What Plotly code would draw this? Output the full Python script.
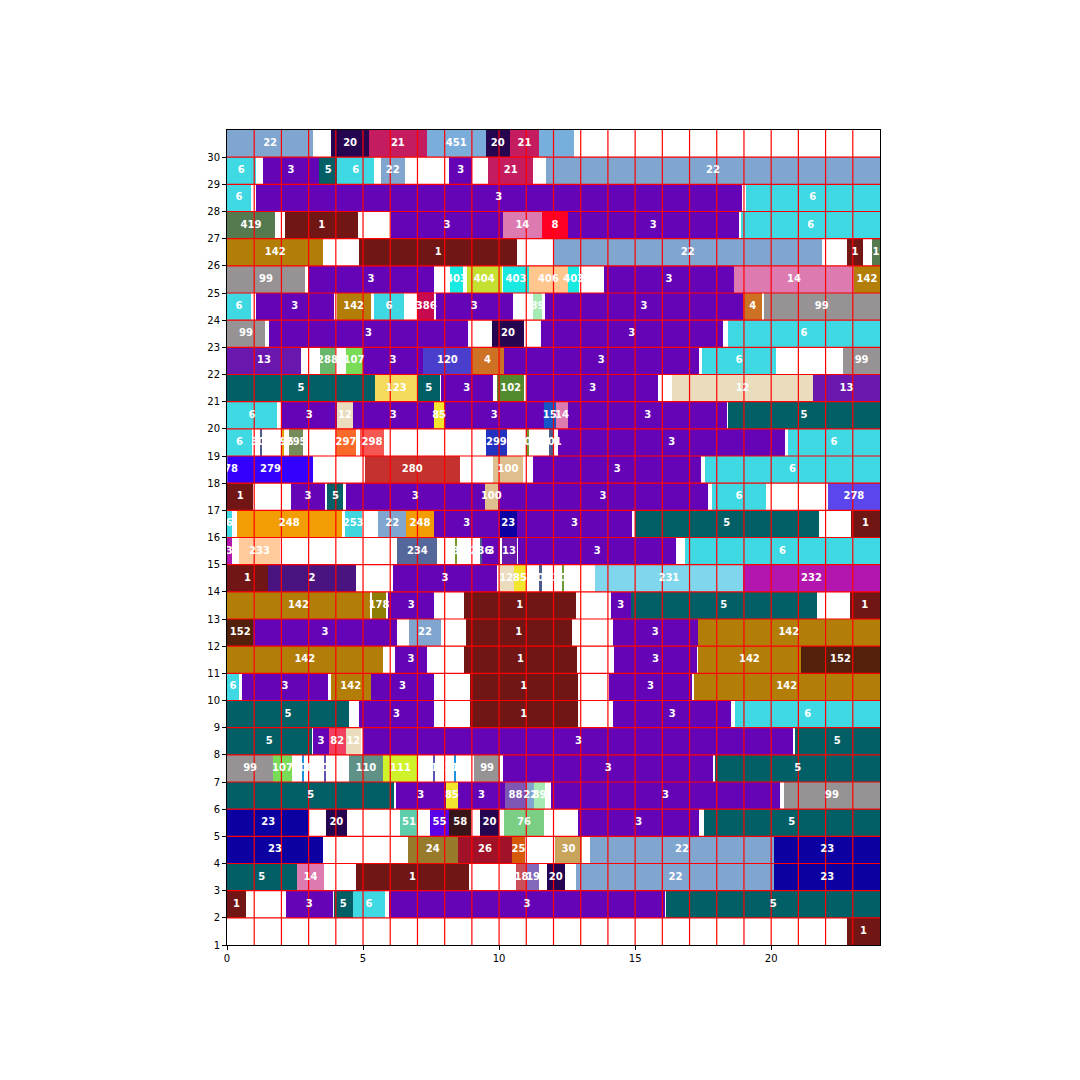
import plotly.graph_objects as go

# ---- data: each row is a list of (start_hour, end_hour, category) ----
r30 = [(0, 3.17, "22"), (3.83, 5.22, "20"), (5.22, 7.34, "21"), (7.34, 9.51, "451"), (9.51, 10.39, "20"),
       (10.39, 11.47, "21"), (11.47, 12.76, "451b")]
r29 = [(0, 1.05, "6"), (1.31, 3.39, "3"), (3.39, 4.06, "5"), (4.06, 5.40, "6"), (5.65, 6.54, "22"),
       (8.16, 9.02, "3"), (9.60, 11.25, "21"), (11.72, 24, "22")]
r28 = [(0, 0.88, "6"), (1.05, 18.93, "3"), (19.06, 24, "6")]
r27 = [(0, 1.76, "419"), (2.13, 4.83, "1"), (6.02, 10.15, "3"), (10.15, 11.56, "14"), (11.56, 12.54, "8"),
       (12.54, 18.80, "3"), (18.90, 24, "6")]
r26 = [(0, 3.54, "142"), (4.86, 10.66, "1"), (11.99, 21.87, "22"), (22.79, 23.38, "1"), (23.71, 24, "419")]
r25 = [(0, 2.87, "99"), (2.99, 7.59, "3"), (8.19, 8.68, "403"), (8.82, 10.09, "404"), (10.15, 11.09, "403"),
       (11.09, 12.54, "406"), (12.54, 12.94, "403"), (13.86, 18.63, "3"), (18.63, 23.04, "14"), (23.04, 24, "142")]
r24 = [(0, 0.88, "6"), (1.05, 3.93, "3"), (4.03, 5.28, "142"), (5.40, 6.51, "6"), (7.03, 7.62, "386"),
       (7.67, 10.51, "3"), (11.25, 11.58, "89"), (11.68, 18.98, "3"), (18.98, 19.67, "4"), (19.72, 24, "99")]
r23 = [(0, 1.40, "99"), (1.54, 8.86, "3"), (9.74, 10.92, "20"), (11.53, 18.22, "3"), (18.41, 24, "6")]
r22 = [(0, 2.72, "13"), (3.42, 3.97, "288"), (4.36, 4.98, "107"), (4.98, 7.22, "3"), (7.22, 8.98, "120"),
       (8.98, 10.17, "4"), (10.17, 17.33, "3"), (17.45, 20.18, "6"), (22.65, 24, "99")]
r21 = [(0, 5.44, "5"), (5.44, 7.0, "123"), (7.0, 7.83, "5"), (7.85, 9.78, "3"), (9.93, 10.92, "102"),
       (11.03, 15.85, "3"), (16.36, 21.54, "12"), (21.54, 24, "13")]
r20 = [(0, 1.83, "6"), (1.99, 4.06, "3"), (4.06, 4.62, "12"), (4.62, 7.59, "3"), (7.59, 8.0, "85"),
       (8.0, 11.65, "3"), (11.65, 12.08, "15"), (12.08, 12.54, "14"), (12.54, 18.38, "3"), (18.42, 24, "5")]
r19 = [(0, 0.91, "6"), (1.24, 1.30, "301"), (2.03, 2.11, "296"), (2.28, 2.80, "295"), (4.01, 4.74, "297"),
       (4.89, 5.77, "298"), (9.51, 10.29, "299"), (11.0, 11.1, "300"), (11.84, 11.99, "301"),
       (12.18, 20.51, "3"), (20.61, 24, "6")]
r18 = [(0, 0.03, "278"), (0.03, 3.17, "279"), (5.07, 8.55, "280"), (9.78, 10.88, "100"), (11.25, 17.43, "3"),
       (17.57, 24, "6")]
r17 = [(0, 0.97, "1"), (2.35, 3.60, "3"), (3.69, 4.28, "5"), (4.36, 9.47, "3"), (9.47, 9.96, "100"),
       (9.96, 17.67, "3"), (17.82, 19.82, "6"), (22.08, 24, "278")]
r16 = [(0, 0.17, "6"), (0.36, 4.22, "248"), (4.32, 4.95, "253"), (5.56, 6.58, "22"), (6.58, 7.61, "248"),
       (7.61, 10.02, "3"), (10.02, 10.66, "23"), (10.66, 14.89, "3"), (14.99, 21.75, "5"), (22.94, 24, "1")]
r15 = [(0, 0.17, "232"), (0.44, 1.95, "233"), (6.26, 7.73, "234"), (8.40, 8.44, "235"), (9.29, 9.38, "236"),
       (9.39, 10.02, "3"), (10.09, 10.64, "13"), (10.70, 16.51, "3"), (16.84, 24, "6")]
r14 = [(0, 1.50, "1"), (1.50, 4.74, "2"), (6.09, 9.93, "3"), (9.99, 10.54, "12"), (10.54, 11.0, "85"),
       (11.47, 11.57, "301"), (12.32, 12.38, "300"), (13.52, 18.96, "231"), (18.96, 24, "232")]
r13 = [(0, 5.26, "142"), (5.33, 5.85, "178"), (5.93, 7.61, "3"), (8.70, 12.81, "1"), (14.11, 14.84, "3"),
       (14.84, 21.68, "5"), (22.88, 24, "1")]
r12 = [(0, 0.97, "152"), (0.97, 6.24, "3"), (6.69, 7.87, "22"), (8.77, 12.68, "1"), (14.17, 17.30, "3"),
       (17.30, 24, "142")]
r11 = [(0, 5.72, "142"), (6.18, 7.34, "3"), (8.70, 12.87, "1"), (14.23, 17.27, "3"), (17.30, 21.10, "142"),
       (21.10, 24, "152")]
r10 = [(0, 0.44, "6"), (0.54, 3.73, "3"), (3.82, 5.28, "142"), (5.28, 7.61, "3"), (8.92, 12.90, "1"),
       (14.03, 17.10, "3"), (17.15, 24, "142")]
r9 = [(0, 4.49, "5"), (4.85, 7.61, "3"), (8.92, 12.90, "1"), (14.19, 18.53, "3"), (18.68, 24, "6")]
r8 = [(0, 3.11, "5"), (3.15, 3.75, "3"), (3.75, 4.36, "82"), (4.36, 4.93, "12"), (5.01, 20.82, "3"),
      (20.86, 24, "5")]
r7 = [(0, 1.70, "99"), (1.70, 2.38, "107"), (2.77, 2.83, "108"), (3.57, 3.63, "109"), (4.49, 5.72, "110"),
      (5.72, 7.03, "111"), (7.59, 7.65, "112"), (8.35, 8.41, "113"), (9.07, 10.05, "99"), (10.15, 17.88, "3"),
      (17.95, 24, "5")]
r6 = [(0, 6.15, "5"), (6.20, 8.04, "3"), (8.04, 8.49, "85"), (8.49, 10.21, "3"), (10.21, 11.0, "88"),
      (11.0, 11.29, "22"), (11.29, 11.68, "89"), (11.90, 20.34, "3"), (20.47, 24, "99")]
r5 = [(0, 3.03, "23"), (3.64, 4.40, "20"), (6.34, 7.03, "51"), (7.46, 8.16, "55"), (8.16, 8.98, "58"),
      (9.29, 10.0, "20"), (10.18, 11.65, "76"), (12.90, 17.36, "3"), (17.52, 24, "5")]
r4 = [(0, 3.52, "23"), (6.64, 8.49, "24"), (8.49, 10.48, "26"), (10.48, 10.94, "25"), (12.07, 13.03, "30"),
      (13.33, 20.12, "22"), (20.12, 24, "23")]
r3 = [(0, 2.56, "5"), (2.56, 3.57, "14"), (4.74, 8.90, "1"), (10.61, 11.03, "18"), (11.03, 11.47, "19"),
      (11.76, 12.41, "20"), (12.84, 20.12, "22"), (20.12, 24, "23")]
r2 = [(0, 0.69, "1"), (2.17, 3.88, "3"), (3.93, 4.62, "5"), (4.62, 5.81, "6"), (5.97, 16.08, "3"),
      (16.15, 24, "5")]
r1 = [(22.79, 24, "1")]

rows = {1: r1, 2: r2, 3: r3, 4: r4, 5: r5, 6: r6, 7: r7, 8: r8, 9: r9, 10: r10, 11: r11, 12: r12,
        13: r13, 14: r14, 15: r15, 16: r16, 17: r17, 18: r18, 19: r19, 20: r20, 21: r21, 22: r22,
        23: r23, 24: r24, 25: r25, 26: r26, 27: r27, 28: r28, 29: r29, 30: r30}

x_ticks = [0, 5, 10, 15, 20]
y_ticks = list(range(1, 31))
x_range = [0, 24]
y_range = [1, 31]

colors = {
    "1": "#721515", "2": "#4A1480", "3": "#6404B6", "4": "#CD7224", "5": "#035F66", "6": "#3ED9E3",
    "8": "#FF0024", "12": "#EADCBD", "13": "#6A17AD", "14": "#DD7BB1", "15": "#1356C8", "18": "#C9505A",
    "19": "#8369BB", "20": "#250550", "21": "#C51B5F", "22": "#80A6D0", "23": "#0C00A3", "24": "#977B2B",
    "25": "#D55A0A", "26": "#A11128", "30": "#C9A45B", "51": "#5ECFAA", "55": "#5900E8", "58": "#3A1518",
    "76": "#7ACF85", "82": "#F1405F", "85": "#F2E52E", "88": "#7D57B3", "89": "#A6EBB1", "99": "#979294",
    "100": "#E0BF8E", "102": "#528B2E", "107": "#79DC56", "108": "#1E90E0", "109": "#5A55B0",
    "110": "#5F9186", "111": "#D0F22B", "112": "#5A55B0", "113": "#1E90E0", "120": "#4A3ECC",
    "123": "#F6DA5B", "142": "#B37E08", "152": "#53210B", "178": "#8E7E06", "231": "#80D6EC",
    "232": "#B316AF", "233": "#FFCA9C", "234": "#55679B", "235": "#7A9A2A", "236": "#4A5A8A",
    "248": "#F39D04", "253": "#40D6DD", "278": "#5A46EC", "279": "#3300FF", "280": "#C4312E",
    "288": "#68B76A", "295": "#768B5C", "296": "#E0A000", "297": "#F9692A", "298": "#F55752",
    "299": "#2233C0", "300": "#6B9A30", "301": "#4B5B8C", "386": "#C70A50", "403": "#18EAE1",
    "404": "#C4E030", "406": "#FFC68D", "419": "#557A50", "451": "#7AADDA", "451b": "#78AEDC",
}
hidden_labels = {"451b"}

# ---- build traces ----
ys, bases, widths, cols, cx, labels = [], [], [], [], [], []
for r, segs in rows.items():
    for s, e, c in segs:
        ys.append(r + 0.5)
        bases.append(s)
        widths.append(e - s)
        cols.append(colors[c])
        cx.append((s + e) / 2)
        labels.append("" if c in hidden_labels else c)

fig = go.Figure()
fig.add_trace(go.Bar(orientation="h", y=ys, x=widths, base=bases, width=1.0,
                     marker=dict(color=cols, line=dict(width=0)), hoverinfo="skip", showlegend=False))

# red grid above the bars but below the labels
gxs, gys = [], []
for gx in range(x_range[0] + 1, x_range[1]):
    gxs += [gx, gx, None]
    gys += [y_range[0], y_range[1], None]
for gy in range(y_range[0] + 1, y_range[1]):
    gxs += [x_range[0], x_range[1], None]
    gys += [gy, gy, None]
fig.add_trace(go.Scatter(x=gxs, y=gys, mode="lines", line=dict(color="red", width=1.2),
                         hoverinfo="skip", showlegend=False, cliponaxis=True))

fig.add_trace(go.Scatter(x=cx, y=ys, mode="text", text=labels, cliponaxis=True,
                         textfont=dict(color="white", size=10, family="DejaVu Sans", weight="bold"),
                         hoverinfo="skip", showlegend=False))

fig.update_layout(
    width=1080, height=1080, plot_bgcolor="white", paper_bgcolor="white",
    margin=dict(l=227, r=200, t=130, b=135),
    barmode="overlay", bargap=0,
    font=dict(family="DejaVu Sans", size=10, color="black"),
)
fig.update_xaxes(range=x_range, tickvals=x_ticks, ticktext=[str(v) for v in x_ticks], showgrid=False,
                 zeroline=False, showline=True, linecolor="black", linewidth=1, mirror=True,
                 ticks="outside", ticklen=4, tickcolor="black", tickfont=dict(size=10))
fig.update_yaxes(range=y_range, tickvals=y_ticks, ticktext=[str(v) for v in y_ticks], showgrid=False,
                 zeroline=False, showline=True, linecolor="black", linewidth=1, mirror=True,
                 ticks="outside", ticklen=4, tickcolor="black", tickfont=dict(size=10))

fig.write_html("out.html")
